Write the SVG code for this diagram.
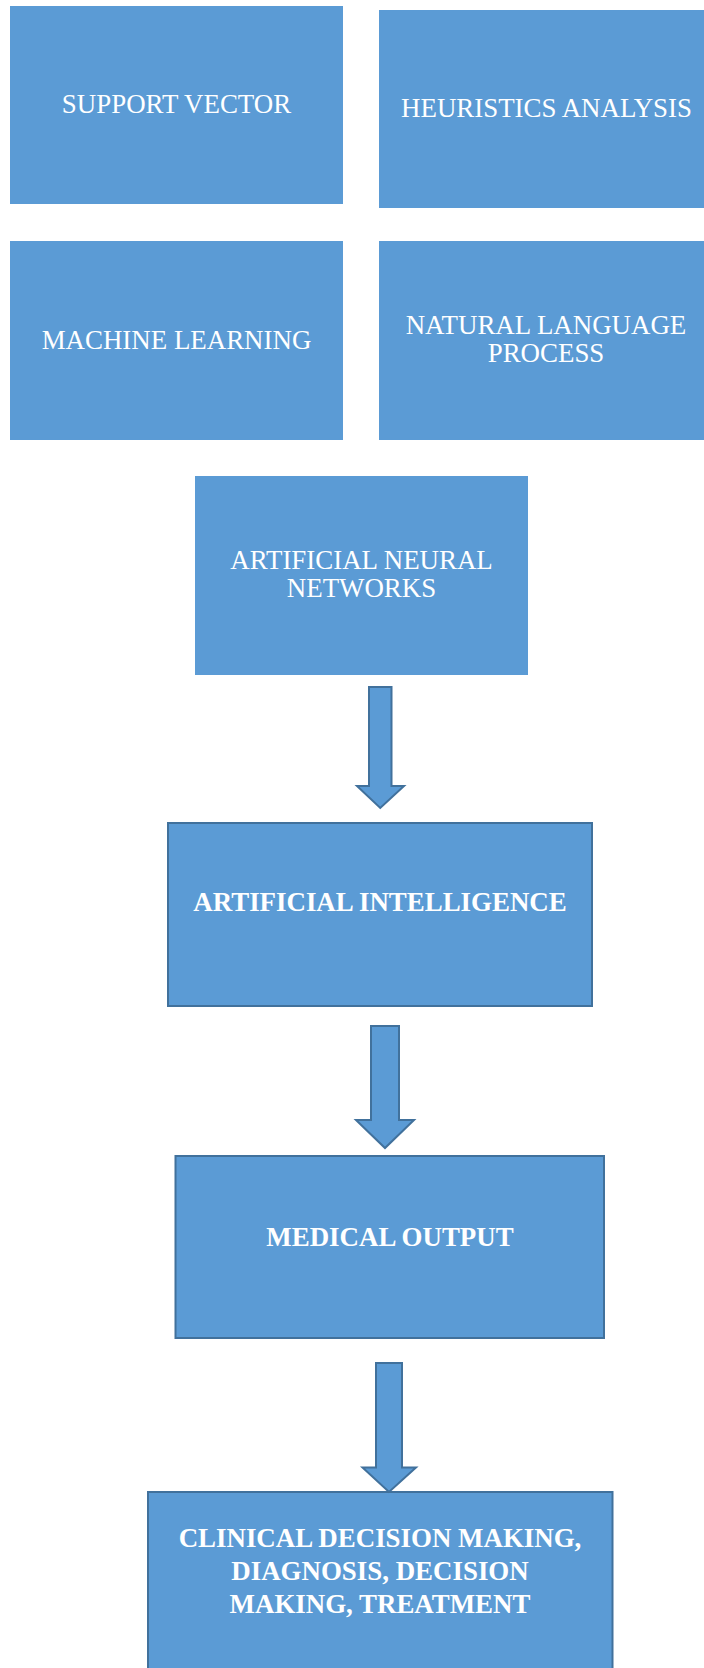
<svg xmlns="http://www.w3.org/2000/svg" width="704" height="1668" viewBox="0 0 704 1668">
<style>
.box{fill:#5B9BD5}
.bx{fill:#5B9BD5;stroke:#41719C;stroke-width:2}
.arr{fill:#5B9BD5;stroke:#41719C;stroke-width:2;stroke-linejoin:miter}
.t{font-family:"Liberation Serif","Times New Roman",serif;font-size:26.9px;fill:#FFFFFF;text-anchor:middle}
.b{font-weight:bold}
</style>
<rect width="704" height="1668" fill="#FFFFFF"/>
<g id="support-vector">
<rect class="box" x="10" y="6" width="333" height="198"/>
<text class="t" x="176.5" y="113">SUPPORT VECTOR</text>
</g>
<g id="heuristics-analysis">
<rect class="box" x="379" y="10" width="325" height="198"/>
<text class="t" x="546.5" y="117">HEURISTICS ANALYSIS</text>
</g>
<g id="machine-learning">
<rect class="box" x="10" y="241" width="333" height="199"/>
<text class="t" x="176.5" y="349">MACHINE LEARNING</text>
</g>
<g id="natural-language-process">
<rect class="box" x="379" y="241" width="325" height="199"/>
<text class="t" x="546" y="334">NATURAL LANGUAGE</text>
<text class="t" x="546" y="361.5">PROCESS</text>
</g>
<g id="artificial-neural-networks">
<rect class="box" x="195" y="476" width="333" height="199"/>
<text class="t" x="361.5" y="569">ARTIFICIAL NEURAL</text>
<text class="t" x="361.5" y="597">NETWORKS</text>
</g>
<g id="artificial-intelligence">
<rect class="bx" x="168" y="823" width="424" height="183"/>
<text class="t b" x="380" y="911">ARTIFICIAL INTELLIGENCE</text>
</g>
<g id="medical-output">
<rect class="bx" x="175.5" y="1156" width="428.5" height="182"/>
<text class="t b" x="390" y="1246">MEDICAL OUTPUT</text>
</g>
<g id="clinical-decision-making">
<rect class="bx" x="148" y="1492" width="464.5" height="190"/>
<text class="t b" x="380" y="1546.5">CLINICAL DECISION MAKING,</text>
<text class="t b" x="380" y="1580">DIAGNOSIS, DECISION</text>
<text class="t b" x="380" y="1613">MAKING, TREATMENT</text>
</g>
<g id="connectors">
<polygon class="arr" points="369,687 391.5,687 391.5,786 404,786 380.25,808 357,786 369,786"/>
<polygon class="arr" points="371,1026 399,1026 399,1120 414,1120 385,1148 356,1120 371,1120"/>
<polygon class="arr" points="376,1363 402,1363 402,1467.5 416,1467.5 389,1492 362.5,1467.5 376,1467.5"/>
</g>
</svg>
